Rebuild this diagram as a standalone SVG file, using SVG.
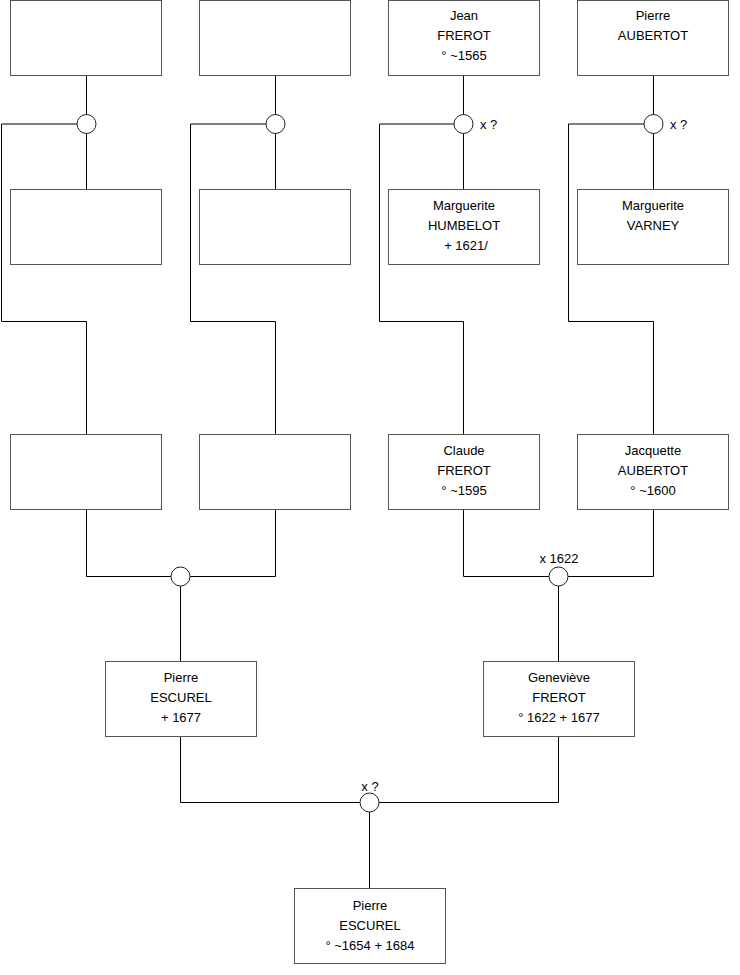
<svg xmlns="http://www.w3.org/2000/svg" width="740" height="975" viewBox="0 0 740 975">
<style>
.box{fill:#fff;stroke:#555;stroke-width:1}
.ln{fill:none;stroke:#000;stroke-width:1}
.ring{fill:#fff;stroke:#222;stroke-width:1}
text{font-family:"Liberation Sans",Arial,sans-serif;font-size:13px;fill:#000;text-anchor:middle}
.lbl{text-anchor:start}
</style>
<rect width="740" height="975" fill="#fff"/>
<g id="connectors">
<path class="ln" d="M86.5 76V190M86.5 124H1.5V321.5H86.5V435"/>
<path class="ln" d="M275.5 76V190M275.5 124H190.5V321.5H275.5V435"/>
<path class="ln" d="M463.5 76V190M463.5 124H379.5V321.5H463.5V435"/>
<path class="ln" d="M653.5 76V190M653.5 124H568.5V321.5H653.5V435"/>
<path class="ln" d="M86.5 510V576.5H275.5V510M180.5 576.5V662"/>
<path class="ln" d="M463.5 510V576.5H653.5V510M558.5 576.5V662"/>
<path class="ln" d="M180.5 737V802.5H558.5V737M369.5 802.5V888"/>
</g>
<g id="unions">
<circle class="ring" cx="86.5" cy="124" r="9.5"/>
<circle class="ring" cx="275.5" cy="124" r="9.5"/>
<circle class="ring" cx="463.5" cy="124" r="9.5"/>
<circle class="ring" cx="653.5" cy="124" r="9.5"/>
<circle class="ring" cx="180.5" cy="576.5" r="9.5"/>
<circle class="ring" cx="558.5" cy="576.5" r="9.5"/>
<circle class="ring" cx="369.5" cy="802.5" r="9.5"/>
<text class="lbl" x="480" y="129">x ?</text>
<text class="lbl" x="670" y="129">x ?</text>
<text x="559" y="563">x 1622</text>
<text x="370" y="791">x ?</text>
</g>
<g id="n1"><rect class="box" x="10.5" y="0.5" width="151" height="75"/></g>
<g id="n2"><rect class="box" x="199.5" y="0.5" width="151" height="75"/></g>
<g id="n3"><rect class="box" x="388.5" y="0.5" width="151" height="75"/>
<text x="464" y="20">Jean</text><text x="464" y="40">FREROT</text><text x="464" y="60">° ~1565</text></g>
<g id="n4"><rect class="box" x="577.5" y="0.5" width="151" height="75"/>
<text x="653" y="20">Pierre</text><text x="653" y="40">AUBERTOT</text></g>
<g id="n5"><rect class="box" x="10.5" y="189.5" width="151" height="75"/></g>
<g id="n6"><rect class="box" x="199.5" y="189.5" width="151" height="75"/></g>
<g id="n7"><rect class="box" x="388.5" y="189.5" width="151" height="75"/>
<text x="464" y="210">Marguerite</text><text x="464" y="230">HUMBELOT</text><text x="466" y="250">+ 1621/</text></g>
<g id="n8"><rect class="box" x="577.5" y="189.5" width="151" height="75"/>
<text x="653" y="210">Marguerite</text><text x="653" y="230">VARNEY</text></g>
<g id="n9"><rect class="box" x="10.5" y="434.5" width="151" height="75"/></g>
<g id="n10"><rect class="box" x="199.5" y="434.5" width="151" height="75"/></g>
<g id="n11"><rect class="box" x="388.5" y="434.5" width="151" height="75"/>
<text x="464" y="455">Claude</text><text x="464" y="475">FREROT</text><text x="464" y="495">° ~1595</text></g>
<g id="n12"><rect class="box" x="577.5" y="434.5" width="151" height="75"/>
<text x="653" y="455">Jacquette</text><text x="653" y="475">AUBERTOT</text><text x="653" y="495">° ~1600</text></g>
<g id="n13"><rect class="box" x="105.5" y="661.5" width="151" height="75"/>
<text x="181" y="682">Pierre</text><text x="181" y="702">ESCUREL</text><text x="181" y="722">+ 1677</text></g>
<g id="n14"><rect class="box" x="483.5" y="661.5" width="151" height="75"/>
<text x="559" y="682">Geneviève</text><text x="559" y="702">FREROT</text><text x="559" y="722">° 1622 + 1677</text></g>
<g id="n15"><rect class="box" x="294.5" y="888.5" width="151" height="75"/>
<text x="370" y="910">Pierre</text><text x="370" y="930">ESCUREL</text><text x="370" y="950">° ~1654 + 1684</text></g>
</svg>
